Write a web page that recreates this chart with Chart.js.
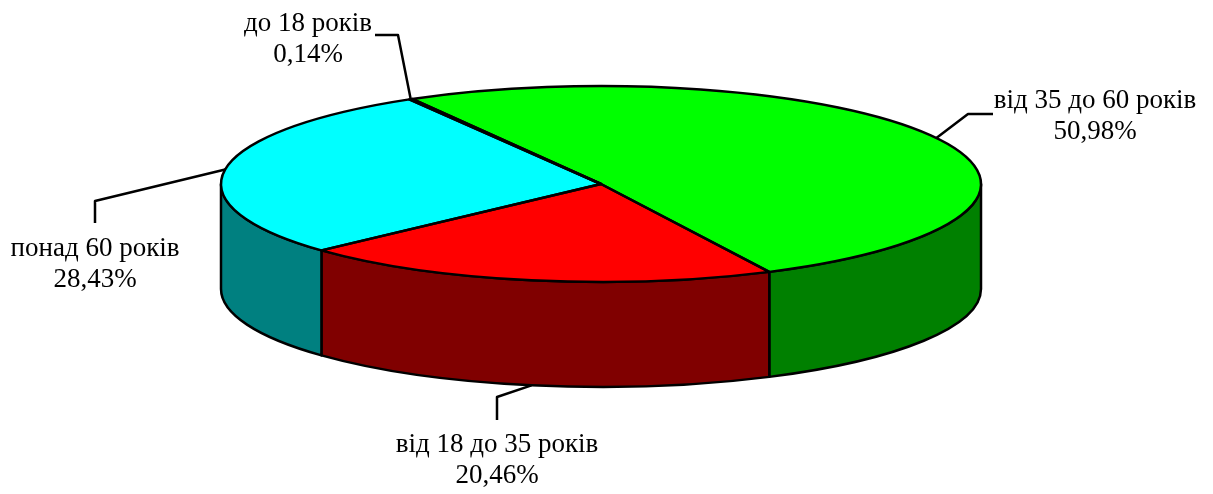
<!DOCTYPE html>
<html lang="uk">
<head>
<meta charset="UTF-8">
<script src="https://cdn.jsdelivr.net/npm/chart.js"></script>
<title>Вікова структура</title>
<style>
    body { margin: 0; background: #fff; }
    #chart { display: block; }
</style>
</head>
<body>
<canvas id="chart" width="1213" height="494"></canvas>
<script>
    // data, in the order the slices run clockwise from the top
    const categories = ['до 18 років', 'від 35 до 60 років', 'від 18 до 35 років', 'понад 60 років'];
    const shares = [0.14, 50.98, 20.46, 28.43];
    const topColors = ['#9999FF', '#00FF00', '#FF0000', '#00FFFF'];
    const sideColors = ['#4D4D80', '#008000', '#800000', '#008080'];

    // where each label sits: leader elbow, leader end, text centre x / first baseline
    const labelLayout = [
        { elbow: [398, 35], end: [375, 35], text: [308, 31] },
        { elbow: [968, 114], end: [993, 114], text: [1095, 108] },
        { elbow: [497, 397], end: [497, 420], text: [497, 452] },
        { elbow: [95, 201], end: [95, 223], text: [95, 256] }
    ];

    const RX = 380, RY = 98, DEPTH = 105; // tilted pie shape
    const FONT = '27px "Liberation Serif", "Times New Roman", serif';
    const LINE_GAP = 31;

    function pct(v) {
        return v.toFixed(2).replace('.', ',') + '%';
    }

    const pie3d = {
        id: 'pie3d',
        beforeDatasetsDraw(chart) {
            const ctx = chart.ctx;
            const arcs = chart.getDatasetMeta(0).data;
            const cx = arcs[0].x, cy = arcs[0].y;

            // front walls (visible part is angle 0..PI)
            ctx.save();
            ctx.lineWidth = 2.5;
            ctx.strokeStyle = '#000';
            ctx.lineJoin = 'round';
            arcs.forEach((arc, i) => {
                for (let k = -1; k <= 1; k++) {
                    const a = Math.max(arc.startAngle + 2 * Math.PI * k, 0);
                    const b = Math.min(arc.endAngle + 2 * Math.PI * k, Math.PI);
                    if (b <= a) continue;
                    ctx.beginPath();
                    ctx.ellipse(cx, cy, RX, RY, 0, a, b);
                    ctx.ellipse(cx, cy + DEPTH, RX, RY, 0, b, a, true);
                    ctx.closePath();
                    ctx.fillStyle = sideColors[i];
                    ctx.fill();
                    ctx.stroke();
                }
            });
            ctx.restore();

            // squash the library's circle into the top ellipse
            ctx.save();
            ctx.translate(cx, cy);
            ctx.scale(RX / arcs[0].outerRadius, RY / arcs[0].outerRadius);
            ctx.translate(-cx, -cy);
        },
        afterDatasetsDraw(chart) {
            const ctx = chart.ctx;
            ctx.restore();
            const arcs = chart.getDatasetMeta(0).data;
            const cx = arcs[0].x, cy = arcs[0].y;

            ctx.save();
            ctx.lineWidth = 2.5;
            ctx.strokeStyle = '#000';
            ctx.lineJoin = 'round';
            arcs.forEach(arc => {
                ctx.beginPath();
                ctx.moveTo(cx, cy);
                ctx.ellipse(cx, cy, RX, RY, 0, arc.startAngle, arc.endAngle);
                ctx.closePath();
                ctx.stroke();
            });

            // leaders and labels
            ctx.font = FONT;
            ctx.fillStyle = '#000';
            ctx.textAlign = 'center';
            ctx.textBaseline = 'alphabetic';
            arcs.forEach((arc, i) => {
                const m = (arc.startAngle + arc.endAngle) / 2;
                const s = Math.sin(m);
                const ax = cx + RX * Math.cos(m);
                const ay = cy + RY * s + (s > 0 ? DEPTH : 0);
                const lay = labelLayout[i];
                ctx.beginPath();
                ctx.moveTo(ax, ay);
                ctx.lineTo(lay.elbow[0], lay.elbow[1]);
                ctx.lineTo(lay.end[0], lay.end[1]);
                ctx.stroke();
                ctx.fillText(categories[i], lay.text[0], lay.text[1]);
                ctx.fillText(pct(shares[i]), lay.text[0], lay.text[1] + LINE_GAP);
            });
            ctx.restore();
        }
    };

    new Chart(document.getElementById('chart'), {
        type: 'pie',
        data: {
            labels: categories,
            datasets: [{
                data: shares,
                backgroundColor: topColors,
                borderWidth: 0,
                clip: false
            }]
        },
        options: {
            responsive: false,
            animation: false,
            events: [],
            rotation: -30.3,
            layout: { padding: { left: 0, right: 11, top: 0, bottom: 126 } },
            plugins: {
                legend: { display: false },
                tooltip: { enabled: false }
            }
        },
        plugins: [pie3d]
    });
</script>
</body>
</html>
